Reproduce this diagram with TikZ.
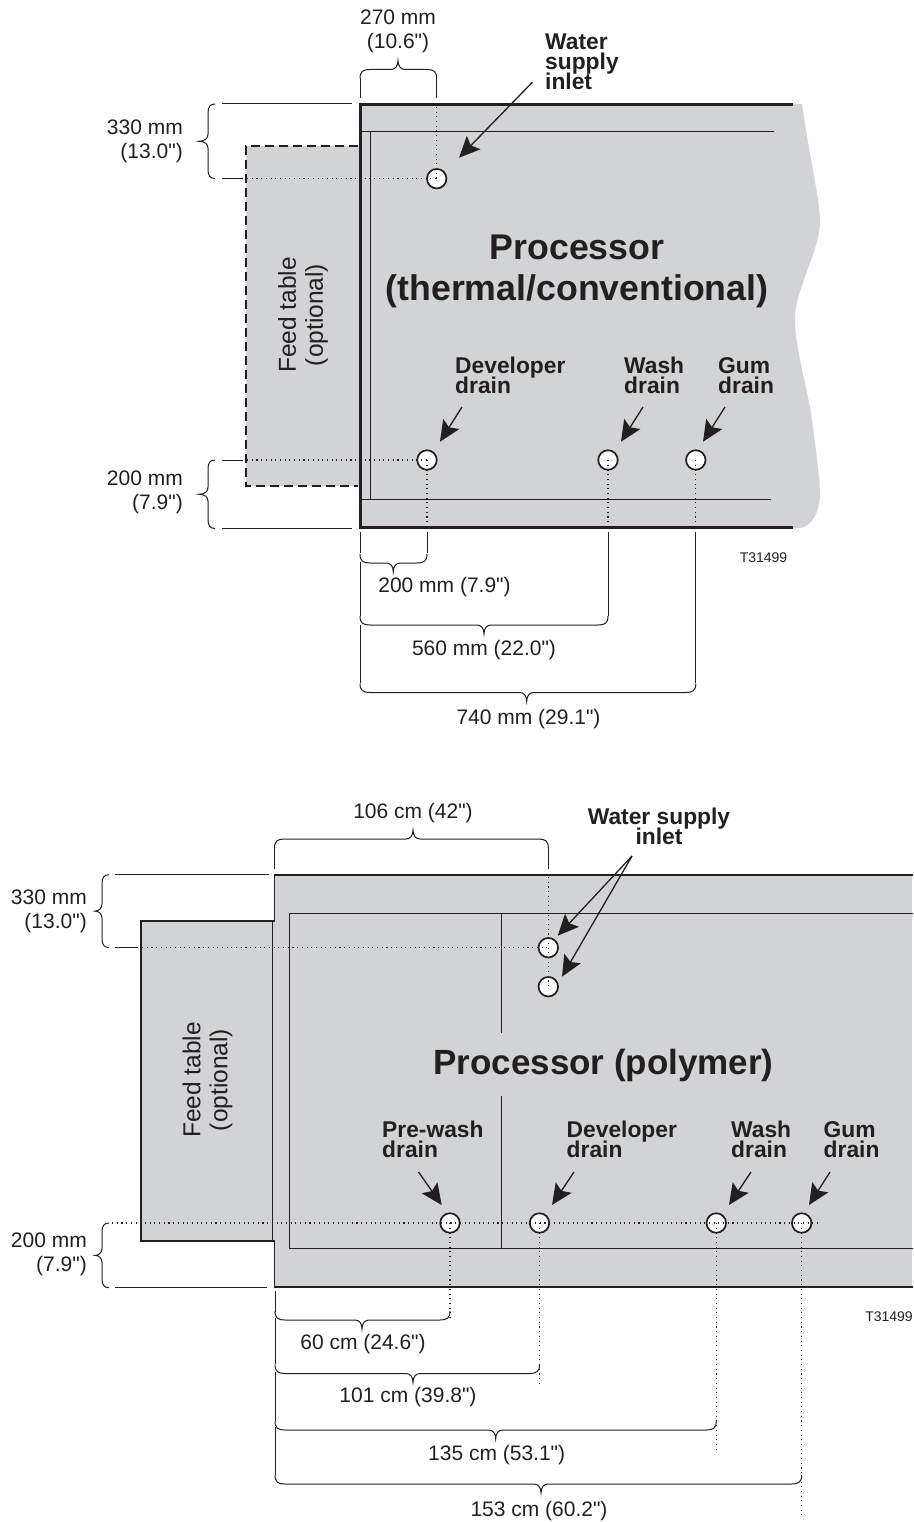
\documentclass[tikz,border=0pt]{standalone}
\usepackage{fontspec}
\setmainfont{Liberation Sans}[Ligatures=TeXOff]
\usetikzlibrary{arrows.meta}
\definecolor{panel}{HTML}{D1D3D4}
\definecolor{ink}{HTML}{231F20}
\setlength{\lineskiplimit}{-100pt}
\tikzset{
  thinline/.style={draw=ink,line width=1pt},
  hole/.style={circle,draw=ink,fill=white,line width=1.7pt,minimum size=19.5pt,inner sep=0pt},
  dots/.style={draw=ink,line width=1.1pt,dash pattern=on 1.1pt off 3.6pt},
  pointer/.style={draw=ink,line width=1.3pt,-{Stealth[length=21pt,width=19pt,inset=4pt]}},
  dimtext/.style={text=ink,inner sep=0pt,font=\fontsize{21}{24}\selectfont},
  tabletext/.style={text=ink,inner sep=0pt,align=center,rotate=90,font=\fontsize{24.5}{27}\selectfont},
  droplabel/.style={text=ink,inner sep=0pt,anchor=north west,align=left,font=\fontsize{22.8}{20}\selectfont\bfseries},
  titletext/.style={text=ink,inner sep=0pt,align=center,font=\fontsize{35.7}{41}\selectfont\bfseries},
  smalltext/.style={text=ink,inner sep=0pt,font=\fontsize{14}{16}\selectfont},
}
% horizontal brace: x1, x2, tip x, y, side (+1 tip down, -1 tip up)
\newcommand{\hbrace}[5]{%
  \draw[thinline] (#1,{#4-#5*9}) .. controls (#1,{#4-#5*2}) and ({#1+3},#4) .. ({#1+10},#4)
    -- ({#3-7},#4) .. controls ({#3-3},#4) and (#3,{#4+#5*3}) .. (#3,{#4+#5*9})
    .. controls (#3,{#4+#5*3}) and ({#3+3},#4) .. ({#3+7},#4)
    -- ({#2-10},#4) .. controls ({#2-3},#4) and (#2,{#4-#5*2}) .. (#2,{#4-#5*9});}
% vertical brace opening right: x, y1, y2, tip x
\newcommand{\vbrace}[4]{%
  \draw[thinline] ({#1+7},#2) .. controls ({#1+2},#2) and (#1,{#2+3}) .. (#1,{#2+9})
    -- (#1,{(#2+#3)/2-7}) .. controls (#1,{(#2+#3)/2-3}) and ({#1-3},{(#2+#3)/2}) .. (#4,{(#2+#3)/2})
    .. controls ({#1-3},{(#2+#3)/2}) and (#1,{(#2+#3)/2+3}) .. (#1,{(#2+#3)/2+7})
    -- (#1,{#3-9}) .. controls (#1,{#3-3}) and ({#1+2},#3) .. ({#1+7},#3);}
\begin{document}
\begin{tikzpicture}[x=1pt,y=-1pt]
\useasboundingbox (0,0) rectangle (913,1522);
% ---------- upper diagram ----------
\fill[panel] (360,104) -- (802,104) .. controls (810,160) and (820,200) .. (820,222)
  .. controls (820,250) and (795,290) .. (795,318)
  .. controls (795,350) and (808,390) .. (812,420)
  .. controls (816,450) and (820,480) .. (820,495)
  .. controls (820,515) and (808,528) .. (800,528) -- (360,528) -- cycle;
\fill[panel] (246,146) rectangle (360,486);
\draw[thinline] (360,131.7) -- (774,131.7);
\draw[thinline] (370.7,131.7) -- (370.7,499.5);
\draw[thinline] (360,499.5) -- (771,499.5);
\draw[draw=ink,line width=2pt,dash pattern=on 9pt off 5pt] (358,146) -- (246,146) -- (246,486) -- (358,486);
\draw[draw=ink,line width=3pt] (793,105) -- (360,105) -- (360,527.7) -- (793,527.7);
\node[hole] (u1) at (436.7,178.7) {};
\node[hole] (u2) at (427,460) {};
\node[hole] (u3) at (608,460) {};
\node[hole] (u4) at (695.8,460) {};
\draw[dots] (436.7,107) -- (u1.center);
\draw[dots] (247,178.7) -- (u1.center);
\draw[dots] (247,460) -- (u2.center);
\draw[dots] (u2.center) -- (427,526);
\draw[dots] (u3.center) -- (608,526);
\draw[dots] (u4.center) -- (695.8,526);
% upper dimensions
\draw[thinline] (360,98) -- (360,78);
\draw[thinline] (436.7,98) -- (436.7,78);
\hbrace{360}{436.7}{398}{69.5}{-1}
\vbrace{208}{104}{178.5}{199}
\draw[thinline] (222,104) -- (352,104);
\draw[thinline] (222,178.5) -- (243,178.5);
\vbrace{208}{460}{528.5}{199}
\draw[thinline] (222,460) -- (243,460);
\draw[thinline] (222,528.5) -- (352,528.5);
\draw[thinline] (360,532) -- (360,553);
\draw[thinline] (427,532) -- (427,553);
\hbrace{360}{427}{393.3}{563}{1}
\draw[thinline] (360,562) -- (360,616);
\draw[thinline] (608,532) -- (608,616);
\hbrace{360}{608}{484}{625}{1}
\draw[thinline] (360,625) -- (360,683);
\draw[thinline] (695.8,532) -- (695.8,683);
\hbrace{360}{695.8}{526.7}{692.5}{1}
% upper arrows
\coordinate (ua1) at (532.3,82.3); \coordinate (ua1t) at (459,157.7);
\coordinate (ua2) at (462,407);    \coordinate (ua2t) at (440,441.7);
\coordinate (ua3) at (643,407);    \coordinate (ua3t) at (621,441.7);
\coordinate (ua4) at (725,407);    \coordinate (ua4t) at (703,441.7);
\draw[pointer] (ua1) -- (ua1t);
\draw[pointer] (ua2) -- (ua2t);
\draw[pointer] (ua3) -- (ua3t);
\draw[pointer] (ua4) -- (ua4t);
% upper text
\node[dimtext,align=center] (ut1) at (398,31.5) {270 mm\\(10.6")};
\node[dimtext,align=right,anchor=east] (ut2) at (183,141) {330 mm\\(13.0")};
\node[dimtext,align=right,anchor=east] (ut3) at (183,492) {200 mm\\(7.9")};
\node[dimtext] (ut4) at (444.5,587) {200 mm (7.9")};
\node[dimtext] (ut5) at (484,650) {560 mm (22.0")};
\node[dimtext] (ut6) at (528.5,719) {740 mm (29.1")};
\node[droplabel] (ul1) at (545,33.5) {Water\\supply\\inlet};
\node[droplabel] (ul2) at (455,357) {Developer\\drain};
\node[droplabel] (ul3) at (624,357) {Wash\\drain};
\node[droplabel] (ul4) at (718,357) {Gum\\drain};
\node[titletext] (ut7) at (577,271) {Processor\\(thermal/conventional)};
\node[tabletext] (ut8) at (303,315) {Feed table\\(optional)};
\node[smalltext] (ut9) at (763.5,558) {T31499};
% ---------- lower diagram ----------
\fill[panel] (274.5,875) rectangle (912,1287);
\fill[panel] (141,921) rectangle (274.5,1241);
\draw[thinline] (913,913) -- (289.7,913) -- (289.7,1248.7) -- (913,1248.7);
\draw[thinline] (501,913) -- (501,1033);
\draw[thinline] (501,1096) -- (501,1248.7);
\draw[thinline] (272.5,921) -- (272.5,1241);
\draw[draw=ink,line width=1.6pt] (913,875) -- (274.5,875) -- (274.5,921) -- (141,921) -- (141,1241) -- (274.5,1241) -- (274.5,1287) -- (913,1287);
\node[hole] (l1) at (548.3,947.7) {};
\node[hole] (l2) at (548.3,986.7) {};
\node[hole] (l3) at (450,1223) {};
\node[hole] (l4) at (539.5,1223) {};
\node[hole] (l5) at (716.3,1223) {};
\node[hole] (l6) at (801.7,1223) {};
\draw[dots] (548.3,877) -- (l2.center);
\draw[dots] (142,947.7) -- (l1.center);
\coordinate (lde) at (819,1223);
\coordinate (lds) at (112,1223);
\draw[dots] (lds) -- (lde);
\draw[dots] (l3.center) -- (450,1320);
\draw[dots] (l4.center) -- (539.5,1383);
\draw[dots] (l5.center) -- (716.3,1453);
\draw[dots] (l6.center) -- (801.7,1515);
% lower dimensions
\draw[thinline] (274.5,869) -- (274.5,848);
\draw[thinline] (548.3,869) -- (548.3,848);
\hbrace{274.5}{548.3}{413}{839}{-1}
\vbrace{102}{874.7}{947.5}{95}
\draw[thinline] (115,874.7) -- (269,874.7);
\draw[thinline] (115,947.5) -- (138,947.5);
\vbrace{102}{1223}{1287.7}{95}
\draw[thinline] (115,1287.7) -- (267,1287.7);
\draw[thinline] (275,1291) -- (275,1312);
\hbrace{275}{450}{362}{1320}{1}
\draw[thinline] (275,1318) -- (275,1364);
\hbrace{275}{539.5}{413}{1373.5}{1}
\draw[thinline] (275,1372) -- (275,1421);
\hbrace{275}{716.3}{495.7}{1430}{1}
\draw[thinline] (275,1427) -- (275,1475);
\hbrace{275}{801.7}{541}{1484}{1}
% lower arrows
\coordinate (la0) at (632,856);
\coordinate (la0a) at (557.7,935.7);
\coordinate (la0b) at (562,976.7);
\coordinate (la1) at (418.5,1172); \coordinate (la1t) at (441.7,1205);
\coordinate (la2) at (574,1172);   \coordinate (la2t) at (552,1205);
\coordinate (la3) at (751,1172);   \coordinate (la3t) at (729,1205);
\coordinate (la4) at (830,1172);   \coordinate (la4t) at (809,1205);
\draw[pointer] (la0) -- (la0a);
\draw[pointer] (la0) -- (la0b);
\draw[pointer] (la1) -- (la1t);
\draw[pointer] (la2) -- (la2t);
\draw[pointer] (la3) -- (la3t);
\draw[pointer] (la4) -- (la4t);
% lower text
\node[dimtext] (lt1) at (413,813) {106 cm (42")};
\node[dimtext,align=right,anchor=east] (lt2) at (87,911) {330 mm\\(13.0")};
\node[dimtext,align=right,anchor=east] (lt3) at (87,1254) {200 mm\\(7.9")};
\node[dimtext] (lt4) at (363,1344) {60 cm (24.6")};
\node[dimtext] (lt5) at (408,1397) {101 cm (39.8")};
\node[dimtext] (lt6) at (496.7,1455) {135 cm (53.1")};
\node[dimtext] (lt7) at (539,1511) {153 cm (60.2")};
\node[droplabel,anchor=north,align=center] (ll1) at (659,808) {Water supply\\inlet};
\node[droplabel] (ll2) at (382,1121) {Pre-wash\\drain};
\node[droplabel] (ll3) at (566.5,1121) {Developer\\drain};
\node[droplabel] (ll4) at (731,1121) {Wash\\drain};
\node[droplabel] (ll5) at (823.5,1121) {Gum\\drain};
\node[titletext,font=\fontsize{35}{41}\selectfont\bfseries] (lt8) at (603.5,1065) {Processor (polymer)};
\node[tabletext] (lt9) at (207.5,1080) {Feed table\\(optional)};
\node[smalltext] (lt10) at (889,1317) {T31499};
\end{tikzpicture}
\end{document}
